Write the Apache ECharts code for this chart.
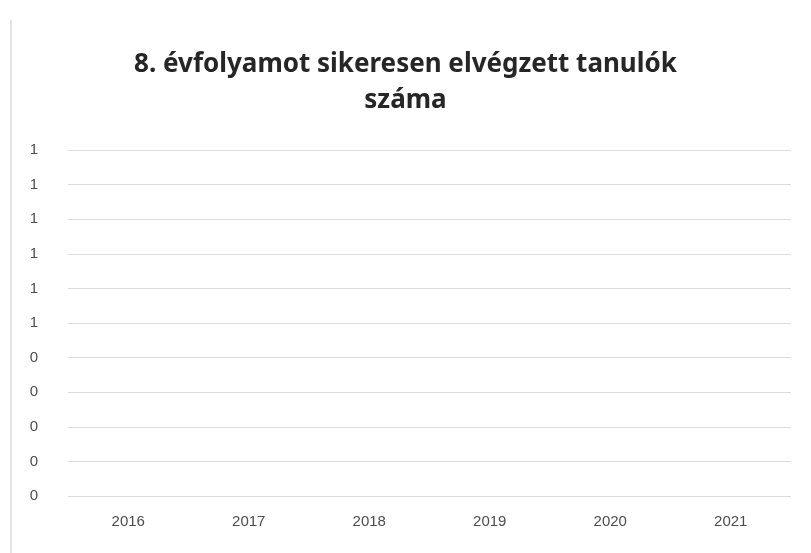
<!DOCTYPE html>
<html>
<head>
<meta charset="utf-8">
<script src="https://cdn.jsdelivr.net/npm/echarts@6/dist/echarts.min.js"></script>
<style>
html,body{margin:0;padding:0;background:#fff;}
#c{width:811px;height:553px;}
</style>
</head>
<body>
<div id="c"></div>
<script>
const titleText = "8. évfolyamot sikeresen elvégzett tanulók\nszáma";
const categories = ["2016", "2017", "2018", "2019", "2020", "2021"];
const values = [0, 0, 0, 0, 0, 0];
const yMin = 0, yMax = 1, yInterval = 0.1;

const chart = echarts.init(document.getElementById('c'));
chart.setOption({
  backgroundColor: '#ffffff',
  animation: false,
  title: {
    text: titleText,
    left: 'center',
    top: 42,
    textStyle: {
      fontFamily: 'Noto Sans',
      fontWeight: 'bold',
      fontSize: 26,
      color: '#262626',
      lineHeight: 36
    }
  },
  graphic: [{
    type: 'line',
    shape: {x1: 11, y1: 20, x2: 11, y2: 553},
    style: {stroke: '#e4e4e4', lineWidth: 2}
  }],
  grid: {left: 68, right: 20, top: 150, bottom: 57},
  xAxis: {
    type: 'category',
    data: categories,
    axisLine: {show: false},
    axisTick: {show: false},
    axisLabel: {color: '#4d4d4d', fontSize: 15, fontFamily: 'Liberation Sans', margin: 18}
  },
  yAxis: {
    type: 'value',
    min: yMin, max: yMax, interval: yInterval,
    axisLine: {show: false},
    axisTick: {show: false},
    splitLine: {lineStyle: {color: '#dcdcdc', width: 1}},
    axisLabel: {
      color: '#4d4d4d', fontSize: 15, fontFamily: 'Liberation Sans', margin: 30,
      formatter: v => String(Math.round(Number(v.toFixed(6))))
    }
  },
  series: [{
    type: 'bar',
    data: values,
    itemStyle: {color: '#4472c4'}
  }]
});
</script>
</body>
</html>
